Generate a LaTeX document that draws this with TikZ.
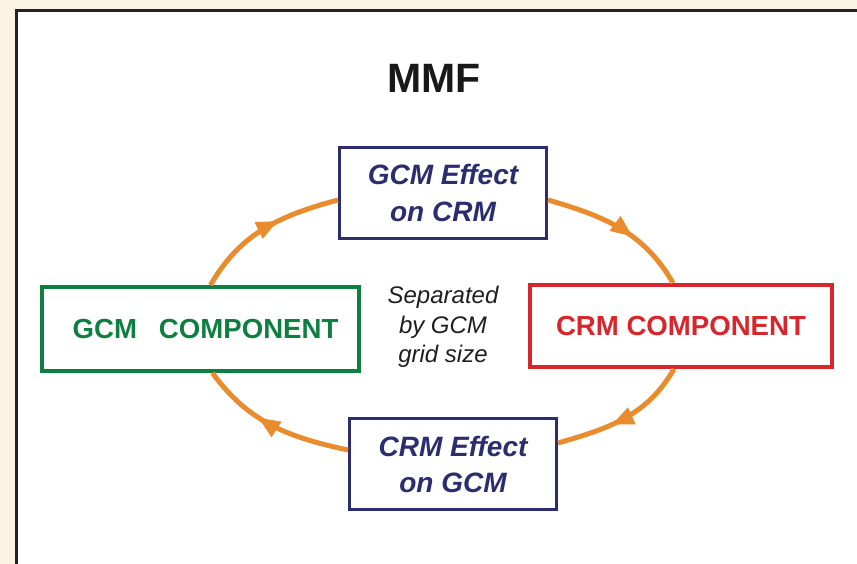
\documentclass[tikz,border=0pt]{standalone}
\usepackage{fontspec}
\setmainfont{Liberation Sans}
\usetikzlibrary{arrows.meta,decorations.markings}
\definecolor{beige}{HTML}{FBF3E4}
\definecolor{navy}{HTML}{2B2D6E}
\definecolor{gcmgreen}{HTML}{0F7F41}
\definecolor{crmred}{HTML}{D7262C}
\definecolor{orangeline}{HTML}{E98C2E}
\definecolor{frameline}{HTML}{222222}
\begin{document}
\begin{tikzpicture}[x=1pt,y=1pt,
  cycleline/.style={draw=orangeline, line width=5pt, postaction={decorate},
    decoration={markings, mark=at position #1 with {\arrow[orangeline]{Triangle[length=22pt,width=17pt]}}}},
  effectbox/.style={draw=navy, line width=3pt, minimum width=207pt, minimum height=91pt,
    inner sep=0pt, align=center, text=navy, font=\bfseries\itshape\fontsize{28}{37}\selectfont},
  compbox/.style={line width=4pt, inner sep=0pt, font=\bfseries\fontsize{27.6}{32}\selectfont}
]
\useasboundingbox (0,0) rectangle (857,-564);
\fill[beige] (0,0) rectangle (857,-564);
\fill[white] (16.5,-10.5) rectangle (857,-564);
\draw[frameline, line width=3pt] (16.5,-564) -- (16.5,-10.5) -- (857,-10.5);

\node[font=\bfseries\fontsize{41}{48}\selectfont, text=black!90] (title) at (434,-78) {MMF};

\node[effectbox] (gcmeff) at (443,-193) {GCM Effect\\on CRM};
\node[effectbox, font=\bfseries\itshape\fontsize{28}{36}\selectfont] (crmeff) at (453,-464) {CRM Effect\\on GCM};
\node[compbox, draw=gcmgreen, text=gcmgreen, minimum width=317pt, minimum height=84pt] (gcm) at (200.5,-329)
  {\hspace{10pt}GCM\hspace{22pt}COMPONENT};
\node[compbox, draw=crmred, text=crmred, minimum width=302pt, minimum height=82pt] (crm) at (681,-326)
  {CRM COMPONENT};
\node[align=center, text=black!88, font=\itshape\fontsize{24}{29.5}\selectfont] (sep) at (443,-327)
  {Separated\\by GCM\\grid size};

\draw[cycleline=0.6] ([xshift=10pt]gcm.north) to[out=60,in=195] ([yshift=-7pt]gcmeff.west);
\draw[cycleline=0.6] ([yshift=-7pt]gcmeff.east) to[out=-16,in=120] ([xshift=-8pt]crm.north);
\draw[cycleline=0.6] ([xshift=-7pt]crm.south) to[out=240,in=16] ([yshift=21pt]crmeff.east);
\draw[cycleline=0.6] ([yshift=14pt]crmeff.west) to[out=168,in=-54] ([xshift=12pt]gcm.south);
\end{tikzpicture}
\end{document}
